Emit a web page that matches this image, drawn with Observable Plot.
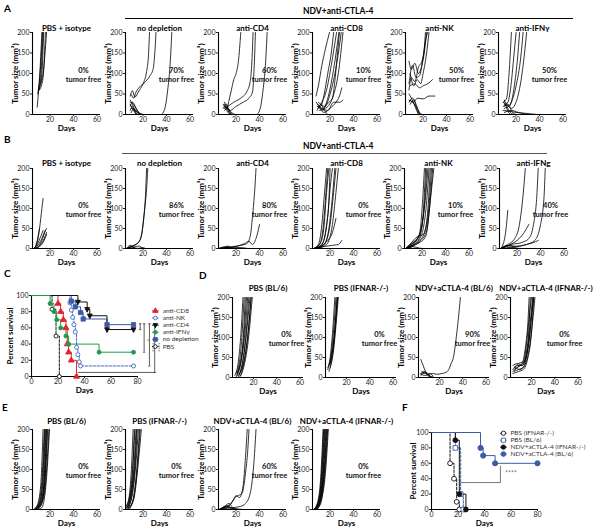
<!DOCTYPE html>
<html><head><meta charset="utf-8">
<script src="https://cdn.jsdelivr.net/npm/d3@7"></script>
<script src="https://cdn.jsdelivr.net/npm/@observablehq/plot@0.6"></script>
<style>
body{margin:0;background:#fff;font-family:Lato,"Open Sans",sans-serif;}
#fig{position:relative;width:600px;height:532px;overflow:hidden;background:#fff;}
.lt{position:absolute;font-weight:700;color:#000;white-space:nowrap;line-height:1;}
.bar{position:absolute;height:0;}
</style></head><body><div id="fig"></div>
<script>
// ---------- DATA ----------
// Panel A: tumor growth curves [day, size mm3]
const A_titles = ["PBS + isotype","no depletion","anti-CD4","anti-CD8","anti-NK","anti-IFNγ"];
const A_pct = ["0%","70%","60%","10%","50%","50%"];
const A1 = [[[9,18],[11,90],[13,200]],[[9.5,50],[12,120],[13.5,200]],[[10,55],[12.5,110],[14,200]],[[10.5,60],[13,100],[14.5,200]],[[11,60],[14,90],[16,200]],[[12,75],[14,100],[17,200]]];
const A2 = [[[9,45],[11,58],[13,42],[15,50],[17,60],[20,75],[23,105],[24.5,140],[25.5,200]],[[10,48],[12,40],[14,55],[17,67],[22,80],[26,95],[28.5,110],[30,150],[31,200]],[[36,0],[39,20],[41,60],[43,120],[44.5,200]],[[9,20],[11,30],[14,15],[17,0]],[[9,30],[12,25],[15,10],[18,0]],[[9,10],[11,20],[13,5],[16,0]],[[10,15],[13,10],[16,5],[20,0]],[[9,35],[11,25],[13,10],[15,0]],[[10,5],[12,15],[15,5],[19,0]],[[9,25],[12,10],[14,0]]];
const A3 = [[[10,25],[12,15],[14,35],[16,60],[18,85],[20,100],[22,130],[24,200]],[[10,15],[13,20],[18,30],[24,40],[29,55],[32,80],[33.5,130],[34.5,200]],[[11,20],[15,10],[20,20],[26,30],[31,40],[34,55],[35.5,120],[36.5,200]],[[38,0],[41,20],[43,60],[45,120],[46.5,200]],[[9,25],[11,15],[13,5],[15,0]],[[10,30],[12,20],[14,10],[16,0]],[[9,15],[12,25],[14,8],[17,0]],[[10,10],[13,15],[16,5],[19,0]],[[11,20],[13,10],[15,0]]];
const A4 = [[[8,45],[10,70],[13,120],[16,160],[19.5,200]],[[9,25],[12,20],[15,50],[18,100],[21,150],[23,200]],[[10,15],[13,30],[17,60],[21,120],[25.5,200]],[[9,20],[14,15],[19,50],[23,110],[27.5,200]],[[10,30],[15,20],[21,60],[26,130],[29.5,200]],[[11,10],[16,15],[22,40],[27,100],[31,200]],[[10,20],[15,5],[20,15],[25,30],[28,45],[30,65]],[[12,15],[18,10],[23,30],[28,30],[31,35]],[[9,10],[12,25],[15,10],[18,0]],[[8,30],[11,20],[14,10],[16,20],[19,30],[22,40],[24,80],[26,140],[28,200]]];
const A5 = [[[8,130],[10,110],[13,125],[16,100],[19,120],[21,150],[23,200]],[[8,60],[10,90],[13,80],[16,115],[19,130],[21,160],[22,200]],[[8,75],[11,120],[14,90],[17,95],[20,140],[22,180],[24,200]],[[9,100],[12,70],[15,85],[18,75],[20,100],[23,150],[25,200]],[[9,70],[13,75],[17,65],[20,70],[24,75],[28,85]],[[9,35],[12,30],[15,40],[20,38],[25,45],[30,45]],[[8,35],[11,30],[14,20],[17,5],[19,0]],[[8,30],[11,40],[14,25],[17,0]],[[9,25],[12,35],[15,10],[18,0]],[[8,50],[10,40],[13,20],[16,0]]];
const A6 = [[[9,30],[12,40],[14,100],[16,200]],[[9,20],[13,30],[16,80],[18,140],[20,200]],[[10,25],[14,20],[18,60],[21,130],[23,200]],[[10,15],[15,25],[20,70],[24,140],[26,200]],[[11,30],[16,15],[22,50],[26,120],[29,200]],[[9,30],[12,20],[15,5],[18,0]],[[10,20],[13,25],[17,5],[20,0]],[[9,10],[14,8],[20,5],[28,3],[38,0]],[[10,35],[12,15],[15,0]],[[10,5],[16,10],[22,5],[30,0]]];

// Panel B
const B_titles = ["PBS + isotype","no depletion","anti-CD4","anti-CD8","anti-NK","anti-IFNg"];
const B_pct = ["0%","86%","80%","0%","10%","40%"];
const B1 = [[[6,0],[9,15],[11,50],[13,100],[14,125]],[[6,0],[9,10],[12,30],[14,45]],[[7,0],[10,10],[13,25],[15,40],[17,50]],[[7,0],[10,5],[13,20],[16,45]],[[7,0],[9,20],[11,50]],[[8,0],[11,5],[14,15],[17,35]],[[7,0],[12,10],[15,25],[17,40]]];
const B2 = [[[6,0],[10,5],[14,10],[18,25],[20,60],[22,130],[23,200]],[[6,0],[12,8],[16,15],[19,40],[21,90],[23,150],[24,200]],[[6,0],[10,5],[13,0]],[[6,0],[9,8],[12,3],[15,0]],[[5,0],[14,0],[20,2],[22,0]],[[6,0],[11,3],[16,6],[20,0]]];
const B3 = [[[5,0],[12,3],[18,5],[24,8],[29,12],[32,30],[34,80],[36,150],[37,200]],[[5,0],[14,2],[20,5],[27,12],[31,18],[34,10],[37,25],[40,60]],[[5,0],[12,5],[14,2],[20,0]],[[6,0],[15,3],[25,2],[30,0]],[[5,0],[10,2],[13,6],[16,0]]];
const B4 = [[[6,0],[10,10],[13,60],[15,130],[17,200]],[[6,0],[11,10],[14,50],[16,120],[18,200]],[[7,0],[12,15],[15,60],[17,140],[19,200]],[[7,0],[13,10],[17,60],[19,120],[20,200]],[[8,0],[14,15],[18,80],[20,150],[22,200]],[[8,0],[15,10],[19,50],[22,130],[24,200]],[[9,0],[16,15],[20,60],[23,140],[25,200]],[[9,0],[17,10],[22,60],[25,140],[27,200]],[[6,0],[13,8],[18,20],[22,40],[25,75]],[[6,0],[15,5],[22,8],[27,10],[30,20]]];
const B5 = [[[6,0],[10,10],[15,20],[18,40],[20,100],[22,200]],[[6,0],[10,5],[14,15],[18,30],[21,90],[23,200]],[[7,0],[11,10],[16,25],[19,45],[22,110],[24,200]],[[7,0],[12,15],[17,30],[20,60],[23,130],[25,200]],[[8,0],[13,10],[18,25],[21,50],[24,120],[26,200]],[[8,0],[12,5],[18,20],[22,40],[25,100],[27,200]],[[6,0],[11,15],[16,30],[21,35],[25,80],[28,200]],[[7,0],[14,10],[19,20],[24,45],[27,120],[30,200]],[[6,0],[12,8],[18,15],[23,30],[26,90],[29,200]],[[6,0],[10,5],[15,3],[20,0],[25,0]]];
const B6 = [[[6,0],[9,20],[11,60],[12,95]],[[6,0],[12,10],[18,25],[22,60],[25,130],[27,200]],[[7,0],[14,10],[20,20],[26,40],[30,60]],[[7,0],[15,10],[24,15],[30,25],[34,60],[37,140],[38,200]],[[8,0],[18,5],[28,10],[35,20],[40,60],[43,130],[44,200]],[[6,0],[12,8],[20,5],[28,10],[34,15],[38,20]],[[6,0],[10,5],[15,3],[20,0]],[[7,0],[14,8],[18,2],[24,0]]];

// Panel D
const D_titles = ["PBS (BL/6)","PBS (IFNAR-/-)","NDV+aCTLA-4 (BL/6)","NDV+aCTLA-4 (IFNAR-/-)"];
const D_pct = ["0%","0%","90%","0%"];
const D1 = [[[4,5],[7,40],[9,100],[11,200]],[[5,10],[8,40],[10,100],[12,200]],[[5,0],[8,30],[11,90],[13,200]],[[6,5],[9,35],[12,110],[14,200]],[[6,10],[10,50],[13,120],[15,200]],[[7,0],[10,30],[13,90],[16,200]],[[7,5],[11,40],[14,110],[17,200]],[[8,10],[11,30],[15,100],[18,200]],[[8,0],[12,30],[15,80],[19,200]],[[9,5],[12,40],[16,130],[18,200]]];
const D2 = [[[4,20],[6,50],[8,110],[10,200]],[[4,25],[7,60],[9,120],[11,200]],[[5,30],[7,50],[10,120],[12,200]],[[5,15],[8,55],[10,110],[12.5,200]],[[6,25],[9,70],[11,130],[13,200]],[[6,35],[9,90],[12,200]]];
const D3 = [[[4,10],[7,12],[10,8],[14,10],[18,8],[22,10],[25,12],[28,20],[30,35],[32,50],[34,90],[36,140],[38,200]],[[4,45],[6,30],[8,15],[10,5],[12,0]],[[4,10],[7,15],[10,10],[13,0]],[[4,5],[8,12],[11,5],[14,0]],[[5,15],[9,8],[12,3],[15,0]],[[4,8],[8,5],[12,10],[15,0]]];
const D4 = [[[4,15],[8,25],[12,35],[15,80],[17,140],[18,200]],[[4,20],[8,30],[12,30],[16,70],[18,130],[19,200]],[[5,25],[9,35],[13,40],[16,90],[18,150],[20,200]],[[5,15],[9,20],[13,25],[17,80],[19,140],[21,200]],[[4,30],[8,35],[12,30],[16,60],[19,120],[21.5,200]],[[5,20],[10,30],[14,40],[18,90],[20,150],[22,200]],[[6,25],[10,20],[14,30],[18,70],[21,140],[23,200]],[[4,10],[9,15],[13,20],[17,50],[20,110],[22,200]]];

// Panel E
const E_titles = ["PBS (BL/6)","PBS (IFNAR-/-)","NDV+aCTLA-4 (BL/6)","NDV+aCTLA-4 (IFNAR-/-)"];
const E_pct = ["0%","0%","60%","0%"];
const E1 = [[[6,0],[9,10],[12,60],[14,200]],[[6,0],[10,15],[13,70],[15,200]],[[7,0],[10,10],[13,50],[15.5,200]],[[7,0],[11,15],[14,70],[16,200]],[[7,0],[11,10],[14,40],[16.5,200]],[[8,0],[12,20],[15,70],[17,200]],[[8,0],[12,10],[15,50],[17.5,200]],[[8,0],[13,20],[16,90],[18,200]],[[9,0],[13,15],[16,60],[19,200]],[[9,0],[13,5],[17,80],[19.5,200]]];
const E2 = [[[5,5],[8,30],[10,100],[11.5,200]],[[5,0],[8,20],[11,90],[12.5,200]],[[6,10],[9,40],[11,100],[13,200]],[[6,0],[9,25],[12,100],[14,200]],[[6,5],[10,40],[13,120],[14.5,200]],[[7,0],[10,30],[13,100],[15,200]],[[7,5],[11,40],[14,120],[16,200]],[[7,0],[11,20],[14,80],[17,200]],[[8,0],[12,30],[15,100],[17.5,200]],[[8,5],[12,25],[16,120],[18.5,200]]];
const E3 = [[[6,0],[10,5],[14,10],[18,25],[20,35],[23,30],[26,60],[28,130],[29.5,200]],[[6,0],[11,5],[15,12],[19,30],[22,35],[25,40],[28,90],[30,150],[31,200]],[[6,0],[12,3],[18,5],[24,8],[28,15],[32,40],[35,110],[37,200]],[[6,0],[10,8],[14,15],[17,5],[20,0]],[[6,0],[12,8],[16,3],[22,0]],[[5,0],[14,5],[20,2],[26,0]],[[6,0],[9,5],[13,10],[16,0]]];
const E4 = [[[6,0],[9,15],[12,80],[14,200]],[[6,0],[9,10],[12,60],[14.5,200]],[[6,0],[10,20],[13,90],[15,200]],[[7,0],[10,15],[13,70],[15.5,200]],[[7,0],[10,10],[14,90],[16,200]],[[7,0],[11,20],[14,80],[16.5,200]],[[8,0],[11,15],[15,100],[17,200]],[[8,0],[12,25],[15,90],[17.5,200]],[[8,0],[12,15],[16,110],[18,200]],[[9,0],[12,20],[16,90],[18.5,200]]];

// Panel C: survival [day, percent]
const C_antiCD8 = [[0,100],[20,90],[22,80],[24,70],[26,60],[27,40],[28,30],[30,20],[34,0]];
const C_antiNK = [[0,100],[29,91],[30,82],[31,73],[32,64],[33,55],[34,36],[35,27],[36,18],[37,13],[77,13]];
const C_antiCD4 = [[0,100],[35,92],[42,83],[44,75],[57,58],[77,58]];
const C_antiIFNg = [[0,100],[14,90],[17,80],[19,70],[22,60],[26,50],[28,40],[51,30],[77,30]];
const C_noDepletion = [[0,100],[30,93],[33,86],[37,79],[39,71],[57,64],[77,64]];
const C_PBS = [[0,100],[15.5,83],[18.5,50],[21,0]];
const C_legend = ["anti-CD8","anti-NK","anti-CD4","anti-IFNγ","no depletion","PBS"];
const C_brackets = [[82,65,58],[85,65,30],[89,65,13],[93,65,5]];
const C_stars = [["*",87,45],["****",91,36],["****",95,36]];

// Panel F
const F_PBS_IFNAR = [[0,100],[14,60],[17,40],[19,10],[21,0]];
const F_PBS_BL6 = [[0,100],[18,80],[22,20],[24,0]];
const F_NDV_IFNAR = [[0,100],[18,90],[21,20],[26,0]];
const F_NDV_BL6 = [[0,100],[37,80],[39,70],[48,60],[80,60]];
const F_legend = ["PBS (IFNAR-/-)","PBS (BL/6)","NDV+aCTLA-4 (IFNAR-/-)","NDV+aCTLA-4 (BL/6)"];

const xTicks = [20,40,60];
const yTicks = [0,50,100,150,200];
const survTicksX = [0,20,40,60,80];
const survTicksY = [0,20,40,60,80,100];

// ---------- DRAWING ----------
const FONT = "Lato, 'Open Sans', sans-serif";
const fig = document.getElementById("fig");
function place(node, left, top) {
  const w = document.createElement("div");
  w.style.position = "absolute"; w.style.left = left + "px"; w.style.top = top + "px";
  w.appendChild(node); fig.appendChild(w);
}
function txt(s, left, top, size, color) {
  const d = document.createElement("div");
  d.className = "lt"; d.textContent = s;
  d.style.left = left + "px"; d.style.top = top + "px"; d.style.fontSize = size + "px";
  if (color) d.style.color = color;
  fig.appendChild(d);
}
function bar(x1, x2, y, color) {
  const d = document.createElement("div");
  d.className = "bar"; d.style.left = x1 + "px"; d.style.width = (x2 - x1) + "px"; d.style.top = y + "px";
  d.style.borderTop = "1.5px solid " + color; fig.appendChild(d);
}

function growth(curves, title, pct, row, axisX) {
  const rows = curves.flatMap((c, i) => c.map(([d, v]) => ({d, v, i})));
  const mL = 34, mR = 4, mT = 16, mB = 22;
  const svg = Plot.plot({
    width: mL + row.fw + mR, height: mT + row.fh + mB,
    marginLeft: mL, marginRight: mR, marginTop: mT, marginBottom: mB,
    style: {background: "none", overflow: "visible", fontFamily: FONT, fontSize: "7px", color: "#222"},
    x: {domain: row.xdom, ticks: xTicks, tickSize: 2, tickPadding: 1, label: null},
    y: {domain: [0, 200], ticks: yTicks, tickSize: 2, tickPadding: 1, label: null},
    marks: [
      Plot.line(rows, {x: "d", y: "v", z: "i", stroke: "#000", strokeWidth: 0.8, curve: "monotone-x", clip: true}),
      Plot.ruleX([row.xdom[0]], {stroke: "#000", strokeWidth: 1.1}),
      Plot.ruleY([0], {stroke: "#000", strokeWidth: 1.1}),
      Plot.text([title], {text: d => d, frameAnchor: "top", dy: -row.titleDy, textAnchor: "middle", lineAnchor: "middle", fontWeight: 700, fontSize: 8, fill: "#000"}),
      Plot.text([pct], {text: d => d, frameAnchor: "right", dx: -17, dy: -3, textAnchor: "middle", lineAnchor: "middle", fontWeight: 700, fontSize: 7.5, fill: "#111"}),
      Plot.text(["tumor free"], {text: d => d, frameAnchor: "right", dx: -17, dy: 6, textAnchor: "middle", lineAnchor: "middle", fontWeight: 700, fontSize: 7.5, fill: "#111"}),
      Plot.text(["Tumor size (mm³)"], {text: d => d, frameAnchor: "left", dx: -17, rotate: -90, textAnchor: "middle", lineAnchor: "middle", fontWeight: 700, fontSize: 8, fill: "#000"}),
      Plot.text(["Days"], {text: d => d, frameAnchor: "bottom", dy: 14, textAnchor: "middle", lineAnchor: "middle", fontWeight: 700, fontSize: 8, fill: "#000"})
    ]
  });
  place(svg, axisX - mL, row.top - mT);
}

const rowA = {top: 32, fh: 82, fw: 68, xdom: [5, 63], titleDy: 4, xs: [32, 125, 218, 312, 405, 498]};
const rowB = {top: 168, fh: 80, fw: 68, xdom: [5, 63], titleDy: 5, xs: [32, 125, 218, 312, 404, 499]};
const rowD = {top: 297, fh: 80, fw: 71, xdom: [2, 63], titleDy: 9, xs: [232, 325, 418, 510]};
const rowE = {top: 429, fh: 80, fw: 68, xdom: [5, 63], titleDy: 8, xs: [32, 125, 218, 312]};

[A1, A2, A3, A4, A5, A6].forEach((c, i) => growth(c, A_titles[i], A_pct[i], rowA, rowA.xs[i]));
[B1, B2, B3, B4, B5, B6].forEach((c, i) => growth(c, B_titles[i], B_pct[i], rowB, rowB.xs[i]));
[D1, D2, D3, D4].forEach((c, i) => growth(c, D_titles[i], D_pct[i], rowD, rowD.xs[i]));
[E1, E2, E3, E4].forEach((c, i) => growth(c, E_titles[i], E_pct[i], rowE, rowE.xs[i]));

// Symbols
const triDown = {draw(ctx, size) { const s = Math.sqrt(size) * 1.25; ctx.moveTo(-s / 2, -s * 0.35); ctx.lineTo(s / 2, -s * 0.35); ctx.lineTo(0, s * 0.6); ctx.closePath(); }};

function survival(cfg) {
  const marks = [];
  cfg.series.forEach(s => {
    const pts = s.data.map(([d, v]) => ({d, v}));
    marks.push(Plot.line(pts, {x: "d", y: "v", curve: "step-after", stroke: s.color, strokeWidth: 1, strokeDasharray: s.dash ? "2.5,1.5" : null}));
  });
  cfg.series.forEach(s => {
    const pts = s.data.map(([d, v]) => ({d, v})).slice(1);
    marks.push(Plot.dot(pts, {x: "d", y: "v", symbol: s.symbol, r: s.r || 2, fill: s.fill ? s.color : "white", stroke: s.color, strokeWidth: 0.9}));
  });
  // legend
  const L = cfg.legend;
  cfg.series.forEach((s, k) => {
    const i = L.order[k];
    const y = L.y0 - i * L.dy;
    marks.push(Plot.link([0], {x1: L.mx - 2.5, x2: L.mx + 2.5, y1: y, y2: y, stroke: s.color, strokeWidth: 1, strokeDasharray: s.dash ? "1.5,1" : null}));
    marks.push(Plot.dot([0], {x: L.mx, y, symbol: s.symbol, r: (s.r || 2) * 0.9, fill: s.fill ? s.color : "white", stroke: s.color, strokeWidth: 0.9}));
    marks.push(Plot.text([L.names[i]], {text: d => d, x: L.tx, y, textAnchor: "start", lineAnchor: "middle", fontSize: L.fs, fill: "#333"}));
  });
  const svg = Plot.plot({
    width: cfg.mL + cfg.fw + cfg.mR, height: cfg.mT + cfg.fh + cfg.mB,
    marginLeft: cfg.mL, marginRight: cfg.mR, marginTop: cfg.mT, marginBottom: cfg.mB,
    style: {background: "none", overflow: "visible", fontFamily: FONT, fontSize: "7px", color: "#222"},
    x: {domain: [0, 80], ticks: survTicksX, tickSize: 2, tickPadding: 1, label: null},
    y: {domain: [0, 100], ticks: survTicksY, tickSize: 2, tickPadding: 1, label: null},
    marks: [
      Plot.ruleX([0], {stroke: "#000", strokeWidth: 1.1}),
      Plot.ruleY([0], {stroke: "#000", strokeWidth: 1.1}),
      ...cfg.extra,
      ...marks,
      Plot.text(["Percent survival"], {text: d => d, frameAnchor: "left", dx: cfg.ylabDx, rotate: -90, textAnchor: "middle", lineAnchor: "middle", fontWeight: 700, fontSize: 8, fill: "#000"}),
      Plot.text(["Days"], {text: d => d, frameAnchor: "bottom", dy: 14, textAnchor: "middle", lineAnchor: "middle", fontWeight: 700, fontSize: 8, fill: "#000"})
    ]
  });
  place(svg, cfg.left, cfg.top);
}

const RED = "#e4232a", BLUE = "#3b5ba8", BLUE2 = "#4467c0", GREEN = "#1f9a50";

// Panel C
const cBr = C_brackets.map(([d, t, b]) => ({d, t, b}));
survival({
  left: 0, top: 285, mL: 31, mR: 90, mT: 10, mB: 22, fw: 106, fh: 81, ylabDx: -21,
  series: [
    {data: C_PBS, color: "#111", symbol: "circle", fill: false, dash: true},
    {data: C_antiCD8, color: RED, symbol: "triangle", fill: true, r: 2.2},
    {data: C_antiNK, color: BLUE2, symbol: "circle", fill: false, dash: true},
    {data: C_noDepletion, color: BLUE, symbol: "square", fill: true, r: 2.4},
    {data: C_antiCD4, color: "#111", symbol: triDown, fill: true, r: 2.2},
    {data: C_antiIFNg, color: GREEN, symbol: "circle", fill: true}
  ],
  legend: {names: C_legend, order: [5, 0, 1, 4, 2, 3], mx: 93.5, tx: 99, y0: 81, dy: 8.8, fs: 6.5},
  extra: [
    Plot.ruleX(cBr, {x: "d", y1: "t", y2: "b", stroke: "#333", strokeWidth: 0.8}),
    Plot.link(cBr, {x1: d => d.d - 0.9, x2: d => d.d + 0.9, y1: "t", y2: "t", stroke: "#333", strokeWidth: 0.8}),
    Plot.link(cBr, {x1: d => d.d - 0.9, x2: d => d.d + 0.9, y1: "b", y2: "b", stroke: "#333", strokeWidth: 0.8}),
    Plot.link([cBr[cBr.length - 1]], {x1: 35, x2: d => d.d, y1: "b", y2: "b", stroke: "#333", strokeWidth: 0.8}),
    Plot.text(C_stars, {x: d => d[1], y: d => d[2], text: d => d[0], rotate: 90, fontSize: 5.5, fill: "#555", textAnchor: "middle", lineAnchor: "middle"})
  ]
});

// Panel F
survival({
  left: 395, top: 424, mL: 36, mR: 63, mT: 8, mB: 22, fw: 106, fh: 77, ylabDx: -18,
  series: [
    {data: F_PBS_IFNAR, color: "#111", symbol: "circle", fill: false, dash: true, r: 2.4},
    {data: F_PBS_BL6, color: BLUE, symbol: "square", fill: false, dash: true, r: 2.6},
    {data: F_NDV_IFNAR, color: "#111", symbol: "circle", fill: true, r: 2.4},
    {data: F_NDV_BL6, color: BLUE, symbol: "circle", fill: true, r: 2.6}
  ],
  legend: {names: F_legend, order: [0, 1, 2, 3], mx: 54.3, tx: 59.6, y0: 99, dy: 9, fs: 6.5},
  extra: [
    Plot.link([0], {x1: 22, x2: 52, y1: 35, y2: 35, stroke: "#555", strokeWidth: 0.8}),
    Plot.link([0], {x1: 52, x2: 52, y1: 35, y2: 57, stroke: "#555", strokeWidth: 0.8}),
    Plot.text(["****"], {x: 60, y: 47, text: d => d, fontSize: 7, fill: "#777", textAnchor: "middle", lineAnchor: "middle"})
  ]
});

// Panel letters and group bars
txt("A", 4, 3, 10); txt("B", 4, 134, 10); txt("C", 4, 268, 10);
txt("D", 199, 270, 10); txt("E", 2, 402, 10); txt("F", 402, 402, 10);
bar(125, 573, 18, "#000"); txt("NDV+anti-CTLA-4", 303, 7, 8.5);
bar(122, 547, 153, "#555"); txt("NDV+anti-CTLA-4", 303, 142, 8.5);
</script></body></html>
